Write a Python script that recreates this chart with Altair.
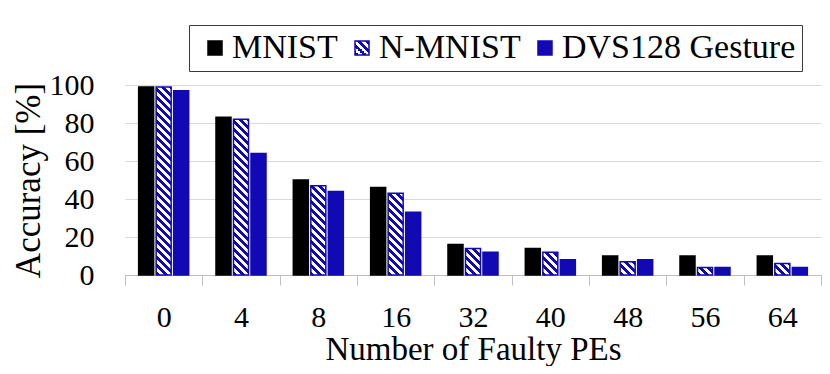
import altair as alt
import pandas as pd

# ---- data ----
faults = ["0", "4", "8", "16", "32", "40", "48", "56", "64"]
datasets = ["MNIST", "N-MNIST", "DVS128 Gesture"]
mnist = [99, 83, 50, 46, 16, 14, 10, 10, 10]
nmnist = [99, 82, 47, 43, 14, 12, 7, 4, 6]
dvs = [97, 64, 44, 33, 12, 8, 8, 4, 4]

BLACK = "#000000"
BLUE = "#1109b4"
FONT = "Liberation Serif"

rows = []
for i, f in enumerate(faults):
    for name, vals in zip(datasets, [mnist, nmnist, dvs]):
        rows.append({"faults": f, "dataset": name, "acc": vals[i]})
df = pd.DataFrame(rows)

# ---- hatch pattern built as a hard-stop linear gradient ----
PERIOD = 8.0   # px between stripes
SPAN = 260.0   # px covered by the gradient axis
stops = []
k = 0
while k * PERIOD < SPAN:
    a = k * PERIOD / SPAN
    b = min((k + 0.5) * PERIOD / SPAN, 1.0)
    c = min((k + 1) * PERIOD / SPAN, 1.0)
    stops += [
        {"offset": a, "color": BLUE},
        {"offset": b, "color": BLUE},
        {"offset": b, "color": "#ffffff"},
        {"offset": c, "color": "#ffffff"},
    ]
    k += 1

hatch_param = alt.param(name="hatchstops", value=stops)

W = "bandwidth('xOffset')"
H = "(scale('y', 0) - scale('y', datum.acc))"
bar_grad = (
    "{gradient: 'linear', x1: 0, y1: 1, "
    f"x2: {SPAN}*{W}/({W}*{W}+{H}*{H}), "
    f"y2: 1 - {SPAN}*{H}/({W}*{W}+{H}*{H}), "
    "stops: hatchstops}"
)
SYM = 14.0
legend_grad = (
    "{gradient: 'linear', x1: 0, y1: 1, "
    f"x2: {SPAN * SYM / (2 * SYM * SYM)}, y2: {1 - SPAN * SYM / (2 * SYM * SYM)}, "
    "stops: hatchstops}"
)

legend = alt.Legend(
    title=None,
    orient="none",
    legendX=64,
    legendY=-60,
    direction="horizontal",
    symbolType="square",
    symbolSize=SYM * SYM,
    symbolStrokeWidth=1.5,
    labelFont=FONT,
    labelFontSize=34,
    labelColor="black",
    labelLimit=600,
    labelOffset=0,
    columnPadding=4,
    symbolOffset=3,
    padding=6,
    strokeColor="#3a3a3a",
    fillColor="#ffffff",
)

chart = (
    alt.Chart(df)
    .mark_bar(strokeWidth=1.5)
    .encode(
        x=alt.X(
            "faults:N",
            sort=faults,
            scale=alt.Scale(paddingInner=0, paddingOuter=0),
            axis=alt.Axis(
                title="Number of Faulty PEs",
                labelAngle=0,
                labelFontSize=30,
                titleFontSize=33,
                tickBand="extent",
                tickSize=10,
                tickColor="#bfbfbf",
                domainColor="#bfbfbf",
                labelPadding=17,
                titlePadding=1,
                grid=False,
            ),
        ),
        xOffset=alt.XOffset(
            "dataset:N",
            sort=datasets,
            scale=alt.Scale(paddingInner=0.143, paddingOuter=0.78),
        ),
        y=alt.Y(
            "acc:Q",
            stack=None,
            scale=alt.Scale(domain=[0, 100], nice=False),
            axis=alt.Axis(
                title="Accuracy [%]",
                values=[0, 20, 40, 60, 80, 100],
                domain=False,
                ticks=False,
                labelPadding=31,
                labelFontSize=30,
                titleFontSize=35,
                titlePadding=3,
                gridColor="#d9d9d9",
            ),
        ),
        fill={
            "condition": {
                "test": "datum.dataset === 'N-MNIST'",
                "value": {"expr": bar_grad},
            },
            "field": "dataset",
            "type": "nominal",
            "sort": datasets,
            "scale": {
                "domain": datasets,
                "range": [BLACK, {"expr": legend_grad}, BLUE],
            },
            "legend": legend.to_dict(),
        },
        stroke=alt.Stroke(
            "dataset:N",
            sort=datasets,
            scale=alt.Scale(domain=datasets, range=[BLACK, BLUE, BLUE]),
            legend=legend,
        ),
    )
    .add_params(hatch_param)
    .properties(
        width=696,
        height=190,
        padding={"left": 3, "top": 16, "right": 0, "bottom": 0},
    )
    .configure_view(stroke=None)
    .configure_axis(
        labelFont=FONT,
        titleFont=FONT,
        labelColor="black",
        titleColor="black",
        titleFontWeight="normal",
    )
    .configure_legend(labelFont=FONT)
)

chart.save("out.html", embed_options={"renderer": "svg", "actions": False})
